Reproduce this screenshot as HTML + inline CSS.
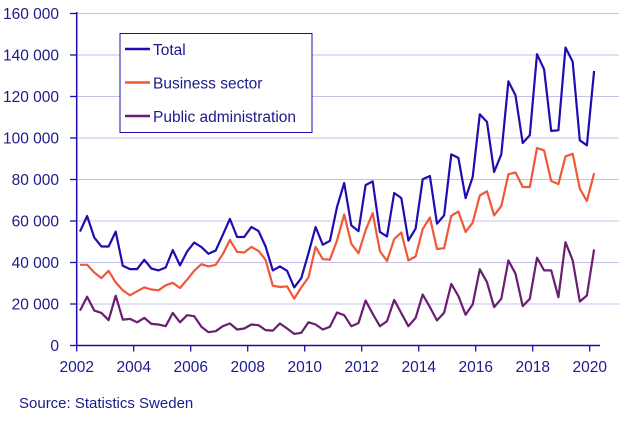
<!DOCTYPE html>
<html><head><meta charset="utf-8"><style>
body{margin:0;background:#fff;}
svg text{font-family:"Liberation Sans",sans-serif;fill:#1c1a8c;}
</style></head><body>
<svg width="619" height="420">
<g id="grid"></g>
<g id="series"></g>
<g id="axes"></g>
<g>
<rect x="120" y="33.5" width="192" height="99" fill="#fff" stroke="#1a10a8" stroke-width="1"/>
<line x1="125" y1="49" x2="150" y2="49" stroke="#1e0eb0" stroke-width="2.5"/>
<text x="153" y="55" font-size="15.5">Total</text>
<line x1="125" y1="82.5" x2="150" y2="82.5" stroke="#f0583a" stroke-width="2.5"/>
<text x="153" y="88.5" font-size="15.5">Business sector</text>
<line x1="125" y1="116" x2="150" y2="116" stroke="#6a1e72" stroke-width="2.5"/>
<text x="153" y="122" font-size="15.5">Public administration</text>
</g>
<text x="19" y="408" font-size="15">Source: Statistics Sweden</text>
</svg>
<script>
const total=[54.9,62.4,52,47.7,47.7,54.9,38.4,36.8,36.8,41.3,37.1,36.2,37.6,46,38.6,45.3,49.6,47.4,44.2,45.8,53.3,61,52.3,52.3,57.1,55.2,47.7,36.2,38.1,36,28,32.5,44.5,57.1,48.6,50.4,66.7,78.3,57.9,55.1,77.3,79.1,54.7,52.6,73.5,71.1,50.6,56.3,80.1,81.7,58.7,62.7,92.1,90.4,71.1,81.2,111.4,107.7,83.6,92.1,127.3,120.6,97.6,101.3,140.4,133.1,103.4,103.7,143.6,136.7,98.9,96.5,132.3];
const business=[38.9,38.9,35.2,32.5,36,30.4,26.6,24.2,26.1,28,27,26.6,29,30.2,27.7,31.7,36,39.2,38.1,38.9,44,50.9,45.1,44.8,47.5,45.6,41.3,28.8,28.2,28.5,22.6,28,32.8,47.5,41.6,41.4,50.6,63.2,49,44.5,55.5,63.8,45.5,40.7,51.3,54.5,41,42.9,56.1,61.7,46.5,46.9,62.5,64.6,54.7,59.2,72.3,74.3,62.7,67.2,82.5,83.4,76.4,76.4,95.2,94,79.3,77.8,91.2,92.4,75.6,69.6,83.1];
const pub=[16.8,23.5,16.8,15.7,12.2,24,12.5,12.8,11.2,13.3,10.4,10.1,9.3,15.7,11.2,14.6,14.1,9,6.4,6.9,9.3,10.6,7.7,8.2,10.1,9.8,7.4,7.2,10.6,8.2,5.6,6.1,11.2,10.1,7.7,9,15.9,14.6,9.3,10.8,21.7,15.3,9.3,11.7,22,15.6,9.3,13.3,24.6,18.5,12.1,15.8,29.7,23.8,14.8,19.8,36.7,30.5,18.5,22.5,41,34.6,19,22.5,42.3,36.2,36.2,23.3,49.8,41,21.2,24.1,46.3];
const yTicks=[0,20000,40000,60000,80000,100000,120000,140000,160000];
const xTicks=[2002,2004,2006,2008,2010,2012,2014,2016,2018,2020];
const NS="http://www.w3.org/2000/svg";
const X0=76.7,Y0=345.5,PX_YEAR=28.5,PX_K=41.5/20;
function xq(i){return 80+i*7.14;}
function xy(yr){return X0+(yr-2002)*PX_YEAR;}
function yv(v){return Y0-v*PX_K;}
function mk(tag,attrs,parent){const e=document.createElementNS(NS,tag);for(const k in attrs)e.setAttribute(k,attrs[k]);parent.appendChild(e);return e;}
const grid=document.getElementById('grid'),axes=document.getElementById('axes'),ser=document.getElementById('series');
yTicks.forEach(t=>{const y=yv(t/1000);
 if(t>0){const g=mk('line',{x1:X0,x2:619,y1:y,y2:y,stroke:'#c4c0ea','stroke-width':1},grid);
 
 }
 const tk=mk('line',{x1:70,x2:X0,y1:y,y2:y,stroke:'#1a10a8','stroke-width':1.3},axes);
 
 
 const tx=mk('text',{x:59,y:y+5.5,'font-size':15.5,'text-anchor':'end'},axes);
 tx.textContent=t===0?'0':(t/1000)+' 000';
 
 
});
mk('line',{x1:X0,x2:X0,y1:12,y2:Y0,stroke:'#1a10a8','stroke-width':1.5},axes);
mk('line',{x1:X0,x2:600,y1:Y0,y2:Y0,stroke:'#1a10a8','stroke-width':1.5},axes);
xTicks.forEach(yr=>{const x=xy(yr);
 const tk=mk('line',{x1:x,x2:x,y1:Y0,y2:Y0+6,stroke:'#1a10a8','stroke-width':1.3},axes);
 
 
 const tx=mk('text',{x:x,y:372,'font-size':15.5,'text-anchor':'middle'},axes);
 tx.textContent=yr;
 
 
});
[[pub,'#6a1e72','public-administration-line'],[business,'#f0583a','business-sector-line'],[total,'#1e0eb0','total-line']].forEach(([d,c,n])=>{
 const p=mk('polyline',{points:d.map((v,i)=>xq(i).toFixed(1)+','+yv(v).toFixed(1)).join(' '),fill:'none',stroke:c,'stroke-width':2.2,'stroke-linejoin':'round'},ser);
 
 
});
</script>
</body></html>
